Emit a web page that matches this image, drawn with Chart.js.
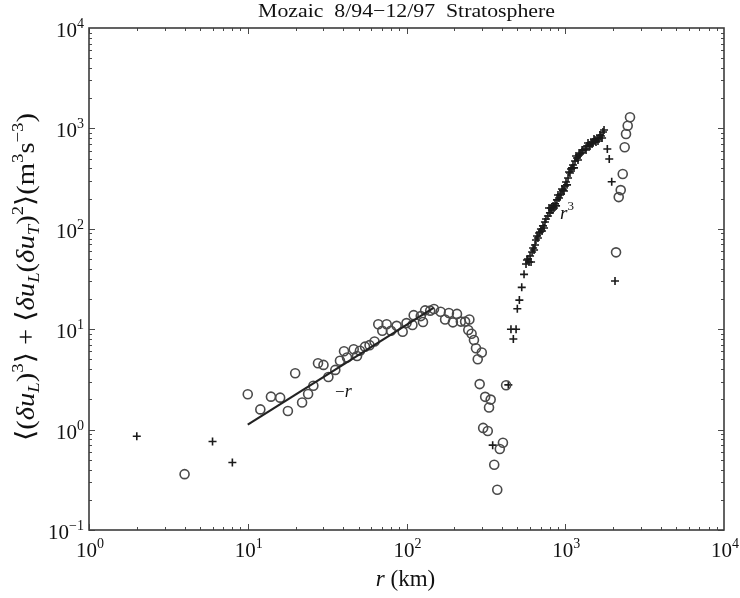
<!DOCTYPE html>
<html><head><meta charset="utf-8">
<script src="https://cdn.jsdelivr.net/npm/chart.js@4.4.1/dist/chart.umd.min.js"></script>
<style>html,body{margin:0;padding:0;background:#fff;}canvas{display:block;}</style>
</head><body>
<canvas id="c" width="740" height="598"></canvas>
<script>
// ---- data (r in km, value in m^3 s^-3) ----
const rCircles = [4.0, 10.0, 12.0, 14.0, 16.0, 17.9, 19.9, 22.0, 24.0, 25.9, 27.7, 30.0, 32.2, 35.6, 38.1, 40.4, 42.2, 46.5, 48.8, 50.9,
  54.8, 58.5, 62.9, 66.4, 70.4, 75.0, 79.8, 86.7, 94.6, 100, 109, 111, 123, 127, 131, 141, 149, 164, 175, 185,
  196, 208, 220, 234, 249, 245, 257, 266, 274, 298, 281, 289, 313, 339, 331, 304, 325, 424, 405, 387,
  357, 373, 2089, 2172, 2236, 2302, 2368, 2414, 2474, 2558];
const vCircles = [0.36, 2.25, 1.59, 2.13, 2.08, 1.53, 3.64, 1.86, 2.26, 2.73, 4.58, 4.41, 3.34, 3.93, 4.85, 6.04, 5.22, 6.31, 5.41, 6.11,
  6.70, 6.94, 7.54, 11.2, 9.66, 11.2, 9.66, 10.8, 9.44, 11.5, 11.0, 13.8, 13.5, 11.8, 15.4, 15.3, 15.9, 14.9, 12.5, 14.5,
  11.7, 14.2, 11.9, 11.9, 12.5, 9.82, 9.02, 7.80, 6.45, 5.86, 5.02, 2.84, 2.12, 1.99, 1.66, 1.04, 0.97, 2.77, 0.74, 0.64,
  0.447, 0.252, 58.3, 207, 243, 351, 648, 879, 1064, 1291];

const rCrosses = [2.0, 6.0, 8.0, 349, 438, 455, 490, 471, 499, 514, 532, 550,
  566, 574, 591, 600, 618, 627, 645, 654, 673, 693, 703, 724, 745, 756, 778, 801, 825, 838, 862, 887, 913, 940,
  968, 996, 1011, 1041, 1071, 1087, 1119, 1152, 1186, 1221, 1257, 1294, 1332, 1371, 1412, 1453, 1496, 1539, 1585, 1632, 1679, 1729,
  609, 664, 714, 790, 875, 954, 1026, 1135, 1239, 1432, 1608,
  582, 636, 684, 735, 813, 849, 900, 927, 982, 1056, 1104, 1169, 1203, 1276, 1352, 1391, 1475, 1517, 1562, 1655, 1706, 1755,
  1841, 1893, 1962, 2058];
const vCrosses = [0.86, 0.76, 0.47, 0.70, 2.79, 10.0, 10.0, 7.98, 16.0, 19.5, 26.1, 35.2,
  44.6, 48.9, 46.7, 53.6, 58.7, 64.4, 69.0, 77.3, 81.0, 92.9, 99.5, 107, 117, 125, 134, 144, 154, 169, 177, 194, 203, 222,
  243, 267, 293, 321, 360, 394, 432, 474, 508, 544, 569, 610, 624, 668, 684, 716, 733, 767, 785, 803, 841, 921,
  46.7, 84.7, 95.1, 161, 169, 249, 274, 404, 556, 668, 750,
  50.0, 61.5, 90.8, 102, 161, 161, 217, 217, 238, 368, 404, 531, 484, 610, 610, 716, 699, 785, 733, 859, 802, 964,
  624, 496, 294, 30.2];

const rFit = [10, 148];
const vFit = [1.12, 16.3];

const xDecades = [0, 1, 2, 3, 4];
const yDecades = [-1, 0, 1, 2, 3, 4];
const titleText = 'Mozaic  8/94\u221212/97  Stratosphere';

// ---- drawing helpers ----
const SERIF = "'Liberation Serif','DejaVu Serif','Times New Roman',serif";
function fnt(sz, it) { return (it ? 'italic ' : '') + sz + 'px ' + SERIF; }
function runsWidth(ctx, runs) {
  let w = 0;
  for (const r of runs) { ctx.font = fnt(r[2], r[1]); w += ctx.measureText(r[0]).width; }
  return w;
}
function drawRuns(ctx, runs, x, y, align) {
  const w = runsWidth(ctx, runs);
  let cx = align === 'center' ? x - w / 2 : align === 'right' ? x - w : x;
  ctx.textAlign = 'left'; ctx.textBaseline = 'alphabetic';
  for (const r of runs) {
    ctx.font = fnt(r[2], r[1]);
    ctx.fillText(r[0], cx, y + r[3]);
    cx += ctx.measureText(r[0]).width;
  }
}
// draw runs centred at (cx, y), stretched along the baseline to a given length
function drawRunsFit(ctx, runs, cx, y, len) {
  const w = runsWidth(ctx, runs);
  ctx.save();
  ctx.translate(cx - len / 2, y);
  ctx.scale(len / w, 1);
  drawRuns(ctx, runs, 0, 0, 'left');
  ctx.restore();
}
function supLabel(d) { return d < 0 ? '\u2212' + (-d) : String(d); }

const decor = {
  id: 'decor',
  afterDraw(chart) {
    const ctx = chart.ctx, a = chart.chartArea, xs = chart.scales.x, ys = chart.scales.y;
    ctx.save();
    // ticks (inward, all four sides)
    ctx.strokeStyle = '#4a4a4a'; ctx.lineWidth = 1;
    ctx.beginPath();
    for (let d = 0; d <= 3; d++) for (let m = 1; m <= 9; m++) {
      const px = Math.round(xs.getPixelForValue(m * Math.pow(10, d))) + 0.5;
      const len = m === 1 ? 6 : 3;
      ctx.moveTo(px, a.bottom); ctx.lineTo(px, a.bottom - len);
      ctx.moveTo(px, a.top); ctx.lineTo(px, a.top + len);
    }
    for (let d = -1; d <= 3; d++) for (let m = 1; m <= 9; m++) {
      const py = Math.round(ys.getPixelForValue(m * Math.pow(10, d))) + 0.5;
      const len = m === 1 ? 6 : 3;
      ctx.moveTo(a.left, py); ctx.lineTo(a.left + len, py);
      ctx.moveTo(a.right, py); ctx.lineTo(a.right - len, py);
    }
    ctx.stroke();
    // frame
    ctx.lineWidth = 1.6; ctx.strokeStyle = '#3c3c3c';
    ctx.strokeRect(a.left, a.top, a.right - a.left, a.bottom - a.top);

    ctx.fillStyle = '#111';
    // x tick labels
    for (const d of xDecades) {
      const px = xs.getPixelForValue(Math.pow(10, d));
      drawRuns(ctx, [['10', false, 21, 0], [supLabel(d), false, 14, -9]], px + 1, a.bottom + 27, 'center');
    }
    // y tick labels
    for (const d of yDecades) {
      const py = ys.getPixelForValue(Math.pow(10, d));
      drawRuns(ctx, [['10', false, 21, 0], [supLabel(d), false, 14, -9]], a.left - 5, py + 9, 'right');
    }
    // title
    drawRunsFit(ctx, [[titleText, false, 19, 0]], 406.5, 17, 297);
    // x axis title
    drawRuns(ctx, [['r', true, 23, 0], [' (km)', false, 23, 0]], (a.left + a.right) / 2 - 1, 586, 'center');
    // y axis title (rotated)
    const yRuns = [
      ['\u27E8(', false, 26, 0], ['\u03B4', true, 26, 0], ['u', true, 26, 0], ['L', true, 17, 5], [')', false, 26, 0], ['3', false, 17, -11],
      ['\u27E9 + \u27E8', false, 26, 0], ['\u03B4', true, 26, 0], ['u', true, 26, 0], ['L', true, 17, 5], ['(', false, 26, 0],
      ['\u03B4', true, 26, 0], ['u', true, 26, 0], ['T', true, 17, 5], [')', false, 26, 0], ['2', false, 17, -11],
      ['\u27E9(m', false, 26, 0], ['3', false, 17, -11], ['s', false, 26, 0], ['\u22123', false, 17, -11], [')', false, 26, 0]
    ];
    ctx.save();
    ctx.translate(34, 277);
    ctx.rotate(-Math.PI / 2);
    drawRunsFit(ctx, yRuns, 0, 0, 328);
    ctx.restore();
    // slope annotations
    const p1x = xs.getPixelForValue(35.5), p1y = ys.getPixelForValue(2.11);
    drawRuns(ctx, [['\u2212', false, 17, 0], ['r', true, 18, 0]], p1x, p1y, 'left');
    const p2x = xs.getPixelForValue(927), p2y = ys.getPixelForValue(125);
    drawRuns(ctx, [['r', true, 19, 0], ['3', false, 13, -9]], p2x, p2y, 'left');
    ctx.restore();
  }
};

new Chart(document.getElementById('c'), {
  type: 'scatter',
  data: {
    datasets: [
      { label: 'fit', type: 'line', data: rFit.map((r, i) => ({ x: r, y: vFit[i] })),
        borderColor: '#222', borderWidth: 2.2, pointRadius: 0, fill: false, showLine: true },
      { label: 'circles', data: rCircles.map((r, i) => ({ x: r, y: vCircles[i] })),
        pointStyle: 'circle', pointRadius: 4.5, borderColor: '#4a4a4a', backgroundColor: 'rgba(0,0,0,0)', borderWidth: 1.6 },
      { label: 'crosses', data: rCrosses.map((r, i) => ({ x: r, y: vCrosses[i] })),
        pointStyle: 'cross', pointRadius: 4, borderColor: '#1a1a1a', backgroundColor: '#1a1a1a', borderWidth: 1.6 }
    ]
  },
  options: {
    responsive: false, animation: false, devicePixelRatio: 1,
    layout: { padding: { left: 89, right: 16, top: 28, bottom: 68 } },
    plugins: { legend: { display: false }, tooltip: { enabled: false } },
    scales: {
      x: { type: 'logarithmic', min: 1, max: 10000, display: false },
      y: { type: 'logarithmic', min: 0.1, max: 10000, display: false }
    }
  },
  plugins: [decor]
});
</script>
</body></html>
